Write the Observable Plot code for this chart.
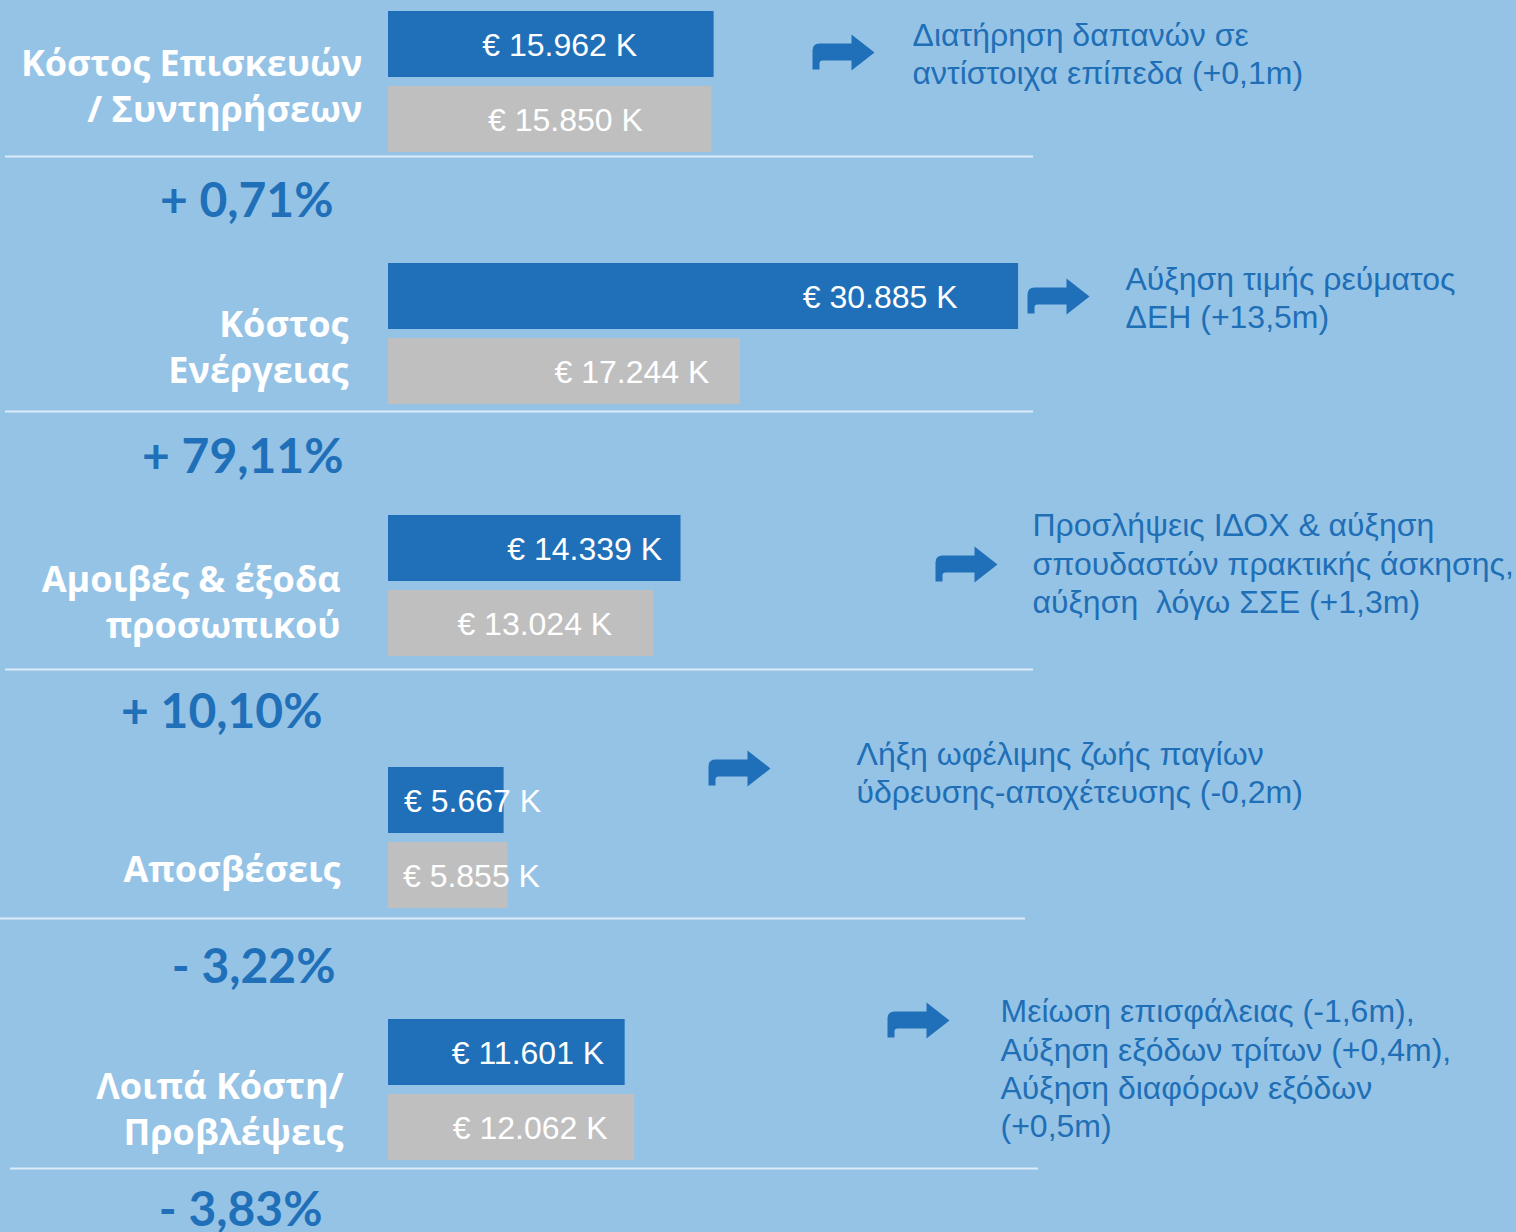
<!DOCTYPE html>
<html>
<head>
<meta charset="utf-8">
<script src="https://cdn.jsdelivr.net/npm/d3@7"></script>
<script src="https://cdn.jsdelivr.net/npm/@observablehq/plot@0.6"></script>
<style>
  html, body { margin: 0; padding: 0; background: #95C3E6; }
  #chart { width: 1516px; height: 1232px; overflow: hidden; }
</style>
</head>
<body>
<div id="chart"></div>
<script>
// ---------- DATA ----------
const categories = [
  "Κόστος Επισκευών\n/ Συντηρήσεων",
  "Κόστος\nΕνέργειας",
  "Αμοιβές & έξοδα\nπροσωπικού",
  "Αποσβέσεις",
  "Λοιπά Κόστη/\nΠροβλέψεις"
];
const currentK  = [15962, 30885, 14339, 5667, 11601];   // thousand €
const previousK = [15850, 17244, 13024, 5855, 12062];   // thousand €
const changeLabels = ["+ 0,71%", "+ 79,11%", "+ 10,10%", "- 3,22%", "- 3,83%"];
const notes = [
  "Διατήρηση δαπανών σε\nαντίστοιχα επίπεδα (+0,1m)",
  "Αύξηση τιμής ρεύματος\nΔΕΗ (+13,5m)",
  "Προσλήψεις ΙΔΟΧ & αύξηση\nσπουδαστών πρακτικής άσκησης,\nαύξηση  λόγω ΣΣΕ (+1,3m)",
  "Λήξη ωφέλιμης ζωής παγίων\nύδρευσης-αποχέτευσης (-0,2m)",
  "Μείωση επισφάλειας (-1,6m),\nΑύξηση εξόδων τρίτων (+0,4m),\nΑύξηση διαφόρων εξόδων\n(+0,5m)"
];

// ---------- LAYOUT (pixels, per row) ----------
const W = 1516, H = 1232;
const BAR_X0 = 388, PX_PER_K = 0.0204;
const ROW_TOP = 11, ROW_STEP = 252;
const labelRight = [362, 348, 340, 340, 343];
const labelDy    = [-53, -44, -41, -26, -38];
const pctRight   = [333, 343, 322, 335, 322];
const pctDy      = [64, 68, 71, 74, 65];
const curDx      = [-77, -61, -19, 37, -21];
const prevDx     = [-69, -31, -42, 32, -27];
const ruleDy     = [19, 22, 28, 25, 23];
const ruleLeft   = [5, 5, 5, 0, 10];
const ruleRight  = [1033, 1033, 1033, 1025, 1038];
const arrowX     = [843, 1058, 966, 739, 918];
const arrowDy    = [-85, -93, -77, -125, -125];
const noteX      = [912, 1125, 1032, 856, 1000];
const noteDy     = [-85, -93, -79, -122, -78];

// ---------- STYLE ----------
const BLUE = "#1F70B8", GRAY = "#BFBFBF", BG = "#95C3E6", TEXT_BLUE = "#1F6FB6";
const SANS = "'Liberation Sans', Arial, sans-serif";

const rows = categories.map((cat, i) => ({
  cat, cur: currentK[i], prev: previousK[i], change: changeLabels[i], note: notes[i]
}));

const num = d3.formatLocale({decimal: ",", thousands: ".", grouping: [3], currency: ["€", ""]}).format(",");
const money = v => `€ ${num(v)} K`;

// bent arrow symbol (drawn around its center; r = 30 gives native size)
const bentArrow = {
  draw(ctx, size) {
    const s = Math.sqrt(size / Math.PI) / 30;
    const P = (x, y) => [x * s, y * s];
    ctx.moveTo(...P(-31, 17));
    ctx.lineTo(...P(-31, -2));
    ctx.quadraticCurveTo(...P(-31, -9), ...P(-24, -9));
    ctx.lineTo(...P(8, -9));
    ctx.lineTo(...P(8, -18));
    ctx.lineTo(...P(31, 0));
    ctx.lineTo(...P(8, 18));
    ctx.lineTo(...P(8, 8));
    ctx.lineTo(...P(-21, 8));
    ctx.quadraticCurveTo(...P(-24, 8), ...P(-24, 11));
    ctx.lineTo(...P(-24, 17));
    ctx.closePath();
  }
};

const marks = [
  Plot.barX(rows, {x: "cur", y: "cat", fill: BLUE, insetTop: 0, insetBottom: ROW_STEP - 66}),
  Plot.barX(rows, {x: "prev", y: "cat", fill: GRAY, insetTop: 75, insetBottom: ROW_STEP - 141})
];

rows.forEach((r, i) => {
  marks.push(
    Plot.ruleY([r], {y: "cat", dy: ruleDy[i], insetLeft: ruleLeft[i], insetRight: W - ruleRight[i],
      stroke: "#DCEBF7", strokeWidth: 2}),
    Plot.text([r], {x: "cur", y: "cat", text: d => money(d.cur), textAnchor: "end",
      dx: curDx[i], dy: -92, fill: "white", fontSize: 32, fontFamily: SANS}),
    Plot.text([r], {x: "prev", y: "cat", text: d => money(d.prev), textAnchor: "end",
      dx: prevDx[i], dy: -17, fill: "white", fontSize: 32, fontFamily: SANS}),
    Plot.text([r], {y: "cat", frameAnchor: "left", text: "cat", textAnchor: "end",
      dx: labelRight[i], dy: labelDy[i], fill: "white", fontSize: 36, fontWeight: 700,
      fontFamily: "'Open Sans', 'Noto Sans', sans-serif", lineHeight: 1.28}),
    Plot.text([r], {y: "cat", frameAnchor: "left", text: "change", textAnchor: "end",
      dx: pctRight[i], dy: pctDy[i], fill: BLUE, fontSize: 48, fontWeight: 700,
      fontFamily: "Lato, 'Open Sans', sans-serif"}),
    Plot.dot([r], {y: "cat", frameAnchor: "left", dx: arrowX[i], dy: arrowDy[i],
      symbol: bentArrow, r: 30, fill: BLUE, stroke: "none"}),
    Plot.text([r], {y: "cat", frameAnchor: "left", text: "note", textAnchor: "start",
      dx: noteX[i], dy: noteDy[i], fill: TEXT_BLUE, fontSize: 32, fontFamily: SANS, lineHeight: 1.2})
  );
});

const chart = Plot.plot({
  width: W,
  height: H,
  margin: 0,
  style: {background: BG, fontFamily: SANS, overflow: "visible"},
  x: {domain: [0, (W - BAR_X0) / PX_PER_K], range: [BAR_X0, W], axis: null},
  y: {type: "band", domain: categories, range: [ROW_TOP, ROW_TOP + ROW_STEP * categories.length],
      padding: 0, round: false, axis: null},
  marks
});
document.getElementById("chart").append(chart);
</script>
</body>
</html>
